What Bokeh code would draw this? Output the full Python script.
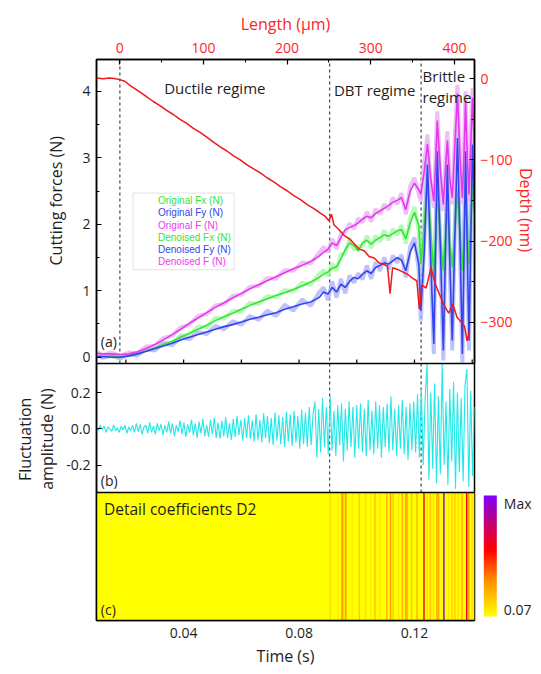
import numpy as np
from bokeh.plotting import figure
from bokeh.models import (Range1d, LinearAxis, FixedTicker, Span, Label, Legend, LegendItem,
                          BoxAnnotation, ColorBar, LinearColorMapper, NumeralTickFormatter,
                          ColumnDataSource, Title)
from bokeh.embed import file_html
from bokeh.resources import INLINE

# ---------------- data ----------------
T_START, T_END = 0.0098, 0.1408
LEN_START, LEN_END = -27.8, 423.9
FORCE_A = (-0.095, 4.48)      # visible force range of panel (a)
DEPTH_A = (-351.0, 23.8)      # visible depth range of panel (a)
FLUCT_B = (-0.351, 0.36)      # visible range of panel (b)
regime_bounds_t = [0.0179, 0.0906, 0.1223]

t_force = [0.0098, 0.012, 0.015, 0.018, 0.021, 0.024, 0.027, 0.030, 0.033, 0.036,
           0.039, 0.042, 0.045, 0.048, 0.051, 0.054, 0.057, 0.060, 0.063, 0.066,
           0.069, 0.072, 0.075, 0.078, 0.081, 0.084, 0.087, 0.0885, 0.090, 0.0915,
           0.093, 0.0945, 0.096, 0.0975, 0.099, 0.1005, 0.102, 0.1035, 0.105, 0.1065,
           0.108, 0.1095, 0.111, 0.1125, 0.114, 0.1155, 0.117, 0.1185, 0.120, 0.1215,
           0.1222, 0.1234, 0.1245, 0.1256, 0.1267, 0.1273, 0.1279, 0.1290, 0.1300, 0.1307,
           0.1314, 0.1322, 0.1331, 0.1340, 0.1349, 0.1358, 0.1366, 0.1372, 0.1377, 0.1383,
           0.1389, 0.1395, 0.1401, 0.1408]

den_F = [0.06, 0.05, 0.05, 0.04, 0.05, 0.08, 0.13, 0.19, 0.26, 0.34,
         0.42, 0.51, 0.59, 0.67, 0.75, 0.82, 0.89, 0.96, 1.03, 1.09,
         1.15, 1.21, 1.27, 1.33, 1.38, 1.44, 1.52, 1.58, 1.62, 1.72,
         1.68, 1.80, 1.92, 1.95, 1.98, 2.02, 2.08, 2.12, 2.10, 2.16,
         2.20, 2.24, 2.28, 2.33, 2.36, 2.40, 2.22, 2.50, 2.62, 2.52,
         2.45, 2.80, 3.21, 2.70, 2.35, 2.90, 3.56, 2.80, 2.30, 2.80,
         3.26, 2.70, 2.40, 3.20, 3.97, 3.00, 2.40, 3.10, 3.85, 3.00,
         2.45, 3.20, 3.90, 3.10]
den_Fx = [0.02, 0.01, 0.02, 0.01, 0.02, 0.05, 0.09, 0.14, 0.19, 0.24,
          0.30, 0.36, 0.42, 0.48, 0.55, 0.61, 0.66, 0.72, 0.78, 0.83,
          0.88, 0.93, 0.97, 1.02, 1.07, 1.13, 1.20, 1.25, 1.28, 1.34,
          1.36, 1.48, 1.62, 1.72, 1.68, 1.60, 1.72, 1.76, 1.70, 1.76,
          1.80, 1.84, 1.82, 1.86, 1.90, 1.92, 1.78, 2.02, 2.18, 1.98,
          1.40, 2.00, 2.64, 1.90, 1.25, 1.80, 2.51, 1.80, 1.30, 1.80,
          2.26, 1.70, 1.35, 1.90, 2.50, 1.85, 1.30, 1.90, 2.45, 1.90,
          1.40, 2.00, 2.60, 2.30]
den_Fy = [0.01, 0.01, 0.00, 0.00, 0.02, 0.05, 0.09, 0.13, 0.17, 0.21,
          0.26, 0.30, 0.34, 0.38, 0.42, 0.46, 0.49, 0.53, 0.57, 0.60,
          0.64, 0.67, 0.72, 0.76, 0.80, 0.83, 0.90, 0.98, 0.95, 1.05,
          0.98, 1.10, 1.05, 1.14, 1.20, 1.18, 1.25, 1.30, 1.26, 1.35,
          1.38, 1.42, 1.40, 1.45, 1.50, 1.46, 1.30, 1.58, 1.72, 1.40,
          0.70, 1.60, 2.90, 1.50, 0.20, 1.60, 3.10, 1.60, 0.10, 1.50,
          2.90, 1.50, 0.25, 1.80, 3.30, 1.70, 0.05, 1.60, 3.10, 1.60,
          0.25, 1.70, 3.20, 2.20]

orig_F = [0.08, 0.03, 0.07, 0.02, 0.07, 0.06, 0.16, 0.17, 0.29, 0.32,
          0.45, 0.49, 0.62, 0.65, 0.78, 0.80, 0.92, 0.94, 1.06, 1.07,
          1.19, 1.18, 1.31, 1.30, 1.42, 1.41, 1.57, 1.66, 1.58, 1.78,
          1.63, 1.86, 1.88, 2.01, 1.93, 2.09, 2.03, 2.19, 2.04, 2.23,
          2.15, 2.30, 2.22, 2.40, 2.30, 2.47, 2.15, 2.57, 2.70, 2.45,
          2.35, 2.95, 3.35, 2.60, 2.25, 3.05, 3.70, 2.70, 2.20, 2.95,
          3.40, 2.60, 2.30, 3.35, 4.10, 2.90, 2.30, 3.25, 4.00, 2.90,
          2.35, 3.35, 4.05, 3.00]
orig_Fx = [0.04, 0.00, 0.04, -0.01, 0.04, 0.03, 0.12, 0.11, 0.22, 0.21,
           0.33, 0.33, 0.46, 0.45, 0.59, 0.58, 0.70, 0.69, 0.82, 0.80,
           0.92, 0.90, 1.01, 0.99, 1.12, 1.09, 1.25, 1.31, 1.22, 1.41,
           1.30, 1.55, 1.56, 1.79, 1.62, 1.67, 1.66, 1.83, 1.64, 1.83,
           1.74, 1.91, 1.76, 1.93, 1.84, 1.99, 1.71, 2.09, 2.26, 1.90,
           1.30, 2.10, 2.78, 1.80, 1.15, 1.90, 2.65, 1.70, 1.20, 1.90,
           2.40, 1.60, 1.25, 2.00, 2.64, 1.75, 1.20, 2.00, 2.58, 1.80,
           1.30, 2.10, 2.72, 2.20]
orig_Fy = [0.03, -0.01, 0.02, -0.02, 0.04, 0.03, 0.12, 0.10, 0.21, 0.18,
           0.30, 0.27, 0.38, 0.35, 0.47, 0.42, 0.54, 0.49, 0.62, 0.56,
           0.70, 0.62, 0.79, 0.70, 0.87, 0.77, 0.98, 1.05, 0.86, 1.14,
           0.90, 1.18, 0.96, 1.23, 1.12, 1.26, 1.17, 1.38, 1.18, 1.43,
           1.30, 1.50, 1.32, 1.53, 1.42, 1.54, 1.20, 1.66, 1.80, 1.30,
           0.55, 1.75, 3.05, 1.35, 0.05, 1.75, 3.25, 1.45, -0.05, 1.65,
           3.05, 1.35, 0.10, 1.95, 3.45, 1.55, -0.08, 1.75, 3.25, 1.45,
           0.10, 1.85, 3.35, 2.10]

length_um = [-28, -20, -12, -5, 0, 6, 12, 18, 25, 32, 40, 48, 56, 64, 72, 80, 88, 96,
             104, 112, 120, 128, 136, 144, 152, 160, 168, 176, 184, 192, 200, 208, 216,
             224, 232, 240, 246, 250, 253, 256, 262, 268, 274, 280, 286, 292, 298, 304,
             310, 316, 320, 323, 326, 332, 338, 344, 350, 355, 358, 361, 366, 372, 377,
             383, 388, 393, 398, 403, 408, 412, 415, 418]
depth_nm = [1, 0, 1, 0, -1, -3, -8, -12, -17, -22, -28, -33, -39, -44, -50, -55, -61, -66,
            -72, -78, -84, -89, -95, -100, -106, -111, -116, -122, -127, -133, -138, -144, -149,
            -155, -160, -166, -170, -175, -167, -180, -186, -193, -197, -203, -210, -212, -219, -221,
            -227, -229, -231, -265, -233, -235, -238, -241, -246, -249, -284, -254, -258, -233, -253,
            -268, -280, -289, -278, -294, -300, -305, -323, -311]

fluct = [0.01, -0.01, 0.02, -0.005, 0.015, -0.02, 0.01, 0.0, -0.015, 0.02,
         -0.01, 0.005, -0.02, 0.015, -0.005, 0.02, -0.025, 0.01, -0.01, 0.02,
         -0.02, 0.03, -0.015, 0.025, -0.03, 0.01, 0.02, -0.025, 0.035, -0.02,
         0.015, -0.03, 0.03, -0.01, 0.025, -0.035, 0.02, -0.02, 0.04, -0.025,
         0.03, -0.04, 0.02, -0.015, 0.045, -0.03, 0.035, -0.045, 0.025, -0.02,
         0.05, -0.035, 0.03, -0.05, 0.04, -0.025, 0.055, -0.04, 0.02, -0.045,
         0.05, -0.03, 0.06, -0.05, 0.035, -0.055, 0.045, -0.04, 0.065, -0.05,
         0.03, -0.06, 0.055, -0.045, 0.07, -0.035, 0.05, -0.065, 0.06, -0.05,
         0.075, -0.055, 0.045, -0.07, 0.08, -0.06, 0.05, -0.075, 0.085, -0.05,
         0.07, -0.08, 0.06, -0.09, 0.09, -0.065, 0.075, -0.085, 0.065, -0.1,
         0.095, -0.07, 0.08, -0.095, 0.1, -0.075, 0.07, -0.11, 0.105, -0.085,
         0.09, -0.1, 0.12, -0.09, 0.08, 0.15, -0.16, 0.11, -0.13, 0.17,
         -0.1, 0.12, -0.14, 0.18, -0.12, 0.1, -0.15, 0.13, -0.09, 0.14,
         -0.18, 0.11, -0.12, 0.15, -0.1, 0.12, -0.16, 0.13, -0.11, 0.14,
         -0.13, 0.11, -0.15, 0.16, -0.12, 0.1, -0.14, 0.15, -0.11, 0.13,
         -0.16, 0.12, -0.1, 0.14, -0.13, 0.18, -0.12, 0.11, -0.15, 0.13,
         -0.11, 0.16, -0.14, 0.12, -0.17, 0.14, -0.12, 0.15, -0.13, 0.19,
         -0.16, 0.22, -0.2, 0.16, 0.36, -0.28, 0.2, -0.22, 0.25, -0.3,
         0.18, -0.25, 0.36, -0.2, 0.15, -0.31, 0.22, -0.18, 0.26, -0.33,
         0.2, -0.24, 0.17, -0.29, 0.24, 0.33, -0.32, 0.21, -0.26, 0.12]
t_fluct = np.linspace(T_START, T_END, len(fluct))

coef_t = [0.0908, 0.0935, 0.0949, 0.0955, 0.0962, 0.0985, 0.1009, 0.1030, 0.1048, 0.1063,
          0.1080, 0.1104, 0.1117, 0.1126, 0.1145, 0.1158, 0.1170, 0.1174, 0.1190, 0.1209,
          0.1233, 0.1245, 0.1255, 0.1266, 0.1278, 0.1284, 0.1302, 0.1318, 0.1330, 0.1340,
          0.1352, 0.1365, 0.1381, 0.1388, 0.1400]
coef_v = [0.15, 0.12, 0.35, 0.2, 0.32, 0.12, 0.2, 0.15, 0.12, 0.22,
          0.13, 0.25, 0.3, 0.2, 0.12, 0.25, 0.3, 0.28, 0.2, 0.25,
          0.6, 0.15, 0.22, 0.13, 0.3, 0.25, 0.95, 0.13, 0.18, 0.2,
          0.15, 0.25, 0.62, 0.28, 0.15]
COEF_MIN, COEF_MAX = 0.07, 1.0

force_ticks = [0, 1, 2, 3, 4]
force_minor = [0.5, 1.5, 2.5, 3.5]
fluct_ticks = [-0.2, 0.0, 0.2]
fluct_labels = ["-0.2", "0.0", "0.2"]
length_ticks = [0, 100, 200, 300, 400]
length_minor = [50, 150, 250, 350]
depth_ticks = [0, -100, -200, -300]
depth_minor = [-50, -150, -250]
time_ticks = [0.04, 0.08, 0.12]
time_minor = [0.02, 0.06, 0.10, 0.14]
time_ticks_a = [0.02, 0.04, 0.06, 0.08, 0.10, 0.12, 0.14]

# ---------------- layout / styles ----------------
FONT = "Open Sans"
TXT = "#1E1E1E"
RED = "#FF2424"
C_FX, C_FY, C_F = "#33E633", "#3344EE", "#E838EE"
C_OFX, C_OFY, C_OF = "#A8F8A8", "#B0B4FA", "#E8B0F4"
C_CYAN = "#22E8E8"

W, H = 541, 674
LB, RB, TB, BB = 96, 67, 59, 54
H_A, H_B, H_C = 304, 129, 128          # pixel heights of panels (a), (b), (c)
FRAME_LEFT, FRAME_BOTTOM = LB, TB + H_A + H_B + H_C


def extend(lo, hi, px, px_below, px_above):
    k = (hi - lo) / px
    return lo - px_below * k, hi + px_above * k


f_lo, f_hi = extend(*FORCE_A, H_A, H_B + H_C, 0)
d_lo, d_hi = extend(*DEPTH_A, H_A, H_B + H_C, 0)
b_lo, b_hi = extend(*FLUCT_B, H_B, H_C, H_A)
c_lo, c_hi = extend(0.0, 1.0, H_C, 0, H_A + H_B)
force_per_px = (FORCE_A[1] - FORCE_A[0]) / H_A


def fluct_to_force(v):
    return round(f_lo + (v - b_lo) * (f_hi - f_lo) / (b_hi - b_lo), 6)


p = figure(width=W, height=H, x_range=Range1d(T_START, T_END), y_range=Range1d(f_lo, f_hi),
           output_backend="svg", toolbar_location=None,
           x_axis_location=None, y_axis_location=None,
           min_border_left=LB, min_border_right=RB, min_border_top=TB, min_border_bottom=BB)
p.extra_x_ranges = {"length": Range1d(LEN_START, LEN_END)}
p.extra_y_ranges = {"depth": Range1d(d_lo, d_hi), "fluct": Range1d(b_lo, b_hi),
                    "coef": Range1d(c_lo, c_hi)}
p.grid.visible = False
p.outline_line_color = "black"
p.outline_line_width = 1.5
p.background_fill_color = "white"
p.border_fill_color = "white"


def style_axis(ax, color=TXT, tick_in=5, minor_in=3, standoff=6, label_standoff=6):
    ax.axis_line_color = "black"
    ax.axis_line_width = 1.5
    ax.major_tick_in = tick_in
    ax.major_tick_out = 0
    ax.minor_tick_in = minor_in
    ax.minor_tick_out = 0
    ax.major_tick_line_color = "black" if tick_in else None
    ax.minor_tick_line_color = "black" if minor_in else None
    ax.major_tick_line_width = 1.2
    ax.major_label_text_font = FONT
    ax.major_label_text_font_size = "14px"
    ax.major_label_text_color = color
    ax.major_label_standoff = standoff
    ax.axis_label_text_font = FONT
    ax.axis_label_text_font_size = "16px"
    ax.axis_label_text_font_style = "normal"
    ax.axis_label_text_color = color
    ax.axis_label_standoff = label_standoff


def side_title(text, offset, standoff, color=TXT):
    return Title(text=text, align="left", offset=offset, standoff=standoff,
                 vertical_align="middle", text_font=FONT, text_font_size="16px",
                 text_font_style="normal", text_color=color)


# left: tick axis (forces for panel a, fluctuation for panel b) + titles
fl_pos = [fluct_to_force(v) for v in fluct_ticks]
overrides = {float(t): str(t) for t in force_ticks}
overrides.update({pos: lab for pos, lab in zip(fl_pos, fluct_labels)})
ax = LinearAxis(ticker=FixedTicker(ticks=[float(t) for t in force_ticks] + fl_pos,
                                   minor_ticks=force_minor),
                major_label_overrides=overrides)
style_axis(ax)
p.add_layout(ax, "left")
p.add_layout(side_title("Cutting forces (N)", 355, -8), "left")
p.add_layout(side_title("amplitude (N)", 130.7, -22), "left")
p.add_layout(side_title("Fluctuation", 139.5, 18), "left")

ax = LinearAxis(x_range_name="length",
                ticker=FixedTicker(ticks=length_ticks, minor_ticks=length_minor),
                axis_label="Length (µm)")
style_axis(ax, color=RED, standoff=7, label_standoff=5)
p.add_layout(ax, "above")

ax = LinearAxis(y_range_name="depth", bounds=DEPTH_A,
                ticker=FixedTicker(ticks=depth_ticks, minor_ticks=depth_minor))
style_axis(ax, color=RED, standoff=6)
p.add_layout(ax, "right")
p.add_layout(side_title("Depth (nm)", 108.5, -3, color=RED), "right")

ax = LinearAxis(ticker=FixedTicker(ticks=time_ticks, minor_ticks=time_minor),
                axis_label="Time (s)", formatter=NumeralTickFormatter(format="0.00"))
style_axis(ax, tick_in=0, minor_in=0, standoff=7, label_standoff=4)
p.add_layout(ax, "below")

# panel (c): yellow base, coefficient stripes
stops = [(0.0, (255, 255, 0)), (0.3, (255, 140, 0)), (0.55, (255, 0, 0)),
         (0.78, (190, 0, 120)), (1.0, (128, 0, 255))]
palette = []
for k in range(256):
    f = k / 255
    for (f0, c0), (f1, c1) in zip(stops[:-1], stops[1:]):
        if f0 <= f <= f1:
            u = (f - f0) / (f1 - f0)
            rgb = [int(round(a + (b - a) * u)) for a, b in zip(c0, c1)]
            palette.append("#%02x%02x%02x" % tuple(rgb))
            break
mapper = LinearColorMapper(palette=palette, low=COEF_MIN, high=COEF_MAX)

p.add_layout(BoxAnnotation(bottom=0, top=1, y_range_name="coef", fill_color=palette[0],
                           fill_alpha=1.0, line_color=None, level="underlay"))
csrc = ColumnDataSource(dict(t=coef_t, v=coef_v))
p.vbar(x="t", width=0.0005, bottom=0, top=1, source=csrc, y_range_name="coef",
       fill_color={"field": "v", "transform": mapper}, line_color=None)

# regime boundaries (dashed)
y_b_bottom = FORCE_A[0] - H_B * force_per_px
p.segment(x0=regime_bounds_t[:1], y0=[FORCE_A[0]], x1=regime_bounds_t[:1], y1=[FORCE_A[1]],
          line_color="#444444", line_dash="3 3", line_width=1.2)
p.segment(x0=regime_bounds_t[1:], y0=[y_b_bottom] * 2, x1=regime_bounds_t[1:],
          y1=[FORCE_A[1]] * 2, line_color="#444444", line_dash="3 3", line_width=1.2)

# inward time ticks on the bottom edge of panel (a)
p.segment(x0=time_ticks_a, y0=[FORCE_A[0]] * len(time_ticks_a), x1=time_ticks_a,
          y1=[FORCE_A[0] + 4 * force_per_px] * len(time_ticks_a),
          line_color="black", line_width=1.2)

# panel (a) curves
src = ColumnDataSource(dict(t=t_force, dF=den_F, dFx=den_Fx, dFy=den_Fy,
                            oF=orig_F, oFx=orig_Fx, oFy=orig_Fy))
p.line("t", "oFx", source=src, line_color=C_OFX, line_width=4, line_alpha=0.8)
p.line("t", "oFy", source=src, line_color=C_OFY, line_width=4, line_alpha=0.8)
p.line("t", "oF", source=src, line_color=C_OF, line_width=4, line_alpha=0.8)
p.line("t", "dFx", source=src, line_color=C_FX, line_width=1.6)
p.line("t", "dFy", source=src, line_color=C_FY, line_width=1.6)
p.line("t", "dF", source=src, line_color=C_F, line_width=1.6)
p.line(length_um, depth_nm, x_range_name="length", y_range_name="depth",
       line_color="#F01818", line_width=1.5)

# panel (b) curve
p.line(t_fluct, fluct, y_range_name="fluct", line_color=C_CYAN, line_width=1.1)

# panel separators
p.add_layout(Span(location=FORCE_A[0], dimension="width", line_color="black", line_width=1.5))
p.add_layout(Span(location=FLUCT_B[0], dimension="width", y_range_name="fluct",
                  line_color="black", line_width=1.5))

# texts
for txt, x, y, align in [("Ductile regime", 0.0508, 4.05, "center"),
                         ("DBT regime", 0.1062, 4.02, "center"),
                         ("Brittle", 0.1228, 4.23, "left"),
                         ("regime", 0.1228, 3.92, "left")]:
    p.add_layout(Label(x=x, y=y, text=txt, text_font=FONT, text_font_size="15px",
                       text_color=TXT, text_align=align, text_baseline="middle"))
p.add_layout(Label(x=0.0113, y=0.236, text="(a)", text_font=FONT, text_font_size="14px",
                   text_color=TXT, text_align="left", text_baseline="middle"))
p.add_layout(Label(x=0.0113, y=-0.285, y_range_name="fluct", text="(b)", text_font=FONT,
                   text_font_size="14px", text_color=TXT, text_align="left",
                   text_baseline="middle"))
p.add_layout(Label(x=0.0124, y=0.872, y_range_name="coef", text="Detail coefficients D2",
                   text_font=FONT, text_font_size="15.5px", text_color=TXT,
                   text_align="left", text_baseline="middle"))
p.add_layout(Label(x=0.0113, y=0.086, y_range_name="coef", text="(c)", text_font=FONT,
                   text_font_size="14px", text_color=TXT, text_align="left",
                   text_baseline="middle"))

# legend box + per-entry legends (each label coloured like its series)
p.add_layout(BoxAnnotation(left=0.0225, right=0.0575, bottom=1.316, top=2.470,
                           fill_color="white", fill_alpha=1.0,
                           line_color="#A0A0A0", line_width=1))
legend_entries = [("Original Fx (N)", C_OFX, 1.2, "#33E633"),
                  ("Original Fy (N)", C_OFY, 1.2, "#3344EE"),
                  ("Original F (N)", C_OF, 1.2, "#F038F0"),
                  ("Denoised Fx (N)", "#1ED21E", 3, "#33E633"),
                  ("Denoised Fy (N)", "#1428E6", 3, "#3344EE"),
                  ("Denoised F (N)", "#F020F0", 3, "#F038F0")]
for i, (lab, lc, lw, tc) in enumerate(legend_entries):
    r = p.line([], [], line_color=lc, line_width=lw)
    center = 200.5 + 12.25 * i
    lg = Legend(items=[LegendItem(label=lab, renderers=[r])],
                location=(133 - FRAME_LEFT, FRAME_BOTTOM - (center + 6)),
                border_line_color=None, background_fill_alpha=0,
                padding=0, margin=0, spacing=0,
                glyph_width=22, glyph_height=12, label_height=12, label_standoff=3,
                label_text_font="Liberation Sans", label_text_font_size="10px",
                label_text_color=tc, label_text_baseline="middle")
    p.add_layout(lg)

# colour bar to the right of panel (c)
cb = ColorBar(color_mapper=mapper, width=13, height=121,
              location=(483.3 - FRAME_LEFT, FRAME_BOTTOM - 616),
              padding=0, margin=0,
              ticker=FixedTicker(ticks=[0.12, 0.94]),
              major_label_overrides={0.12: "0.07", 0.94: "Max"},
              major_tick_line_color=None, bar_line_color=None,
              border_line_color=None, background_fill_alpha=0,
              label_standoff=7,
              major_label_text_font=FONT, major_label_text_font_size="14px",
              major_label_text_color=TXT)
p.add_layout(cb)

open("out.html", "w").write(file_html(p, INLINE))
